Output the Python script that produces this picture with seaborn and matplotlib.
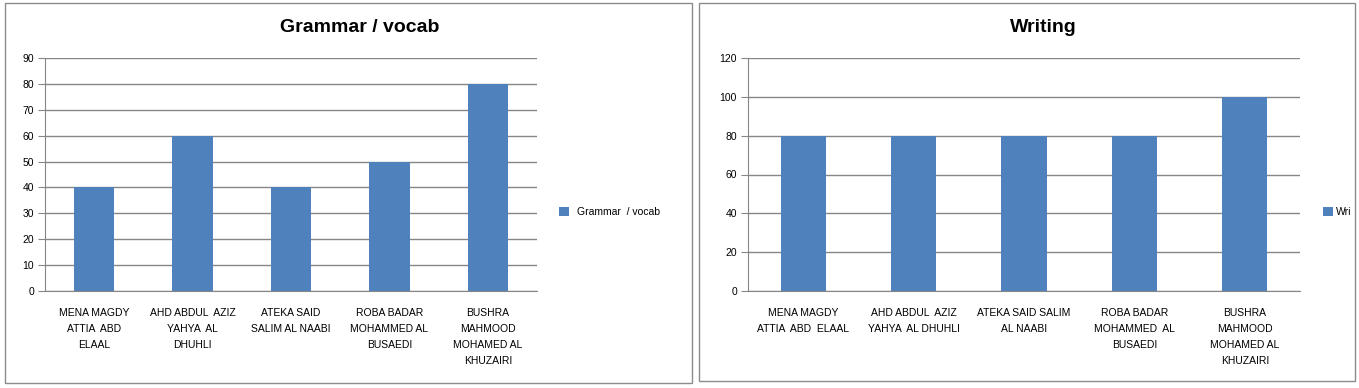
import matplotlib
matplotlib.use("Agg")
import matplotlib.pyplot as plt
import seaborn as sns
import pandas as pd
from matplotlib.patches import Rectangle

# Student names (wrapped as in each chart)
grammar_labels = ["MENA MAGDY\nATTIA  ABD\nELAAL", "AHD ABDUL  AZIZ\nYAHYA  AL\nDHUHLI",
                  "ATEKA SAID\nSALIM AL NAABI", "ROBA BADAR\nMOHAMMED AL\nBUSAEDI",
                  "BUSHRA\nMAHMOOD\nMOHAMED AL\nKHUZAIRI"]
writing_labels = ["MENA MAGDY\nATTIA  ABD  ELAAL", "AHD ABDUL  AZIZ\nYAHYA  AL DHUHLI",
                  "ATEKA SAID SALIM\nAL NAABI", "ROBA BADAR\nMOHAMMED  AL\nBUSAEDI",
                  "BUSHRA\nMAHMOOD\nMOHAMED AL\nKHUZAIRI"]
grammar_scores = [40, 60, 40, 50, 80]
writing_scores = [80, 80, 80, 80, 100]

sns.set_style("white")
plt.rcParams['font.family'] = ['Liberation Sans', 'DejaVu Sans']
plt.rcParams['text.color'] = 'black'
plt.rcParams['xtick.color'] = 'black'
plt.rcParams['ytick.color'] = 'black'

bar_color = '#4F81BD'
grid_color = '#868686'

fig = plt.figure(figsize=(13.59, 3.88), dpi=100)

# chart borders
fig.patches.append(Rectangle((5/1359, 1-383/388), 687/1359, 380/388, transform=fig.transFigure,
                             fill=False, edgecolor='#8c8c8c', linewidth=1))
fig.patches.append(Rectangle((699/1359, 1-381/388), 656/1359, 378/388, transform=fig.transFigure,
                             fill=False, edgecolor='#8c8c8c', linewidth=1))

ax1 = fig.add_axes([45/1359, 1-291/388, 492/1359, 233/388])
ax2 = fig.add_axes([748/1359, 1-291/388, 552/1359, 233/388])


def draw(ax, labels, values, ymax, step, series, title, title_x, leg_x, textpad):
    df = pd.DataFrame({'name': labels, 'score': values})
    sns.barplot(data=df, x='name', y='score', color=bar_color, width=0.41, ax=ax,
                saturation=1, label=series, linewidth=0)
    ax.set_xlim(-0.5, len(labels) - 0.5)
    ax.set_ylim(0, ymax)
    ax.set_yticks(range(0, ymax + 1, step))
    ax.yaxis.grid(True, color=grid_color, linewidth=1)
    ax.set_axisbelow(True)
    for s in ['top', 'right']:
        ax.spines[s].set_visible(False)
    for s in ['left', 'bottom']:
        ax.spines[s].set_color(grid_color)
    ax.set_xlabel('')
    ax.set_ylabel('')
    ax.set_xticks(range(len(labels)))
    ax.set_xticklabels(labels, fontsize=7.5, linespacing=1.75, va='top')
    ax.set_xticks([i - 0.5 for i in range(len(labels) + 1)], minor=True)
    ax.tick_params(axis='x', which='major', length=0, pad=12)
    ax.tick_params(axis='x', which='minor', length=6, color=grid_color, width=1)
    ax.tick_params(axis='y', length=5, color=grid_color, labelcolor='black', labelsize=7.5, left=True, pad=3)
    fig.text(title_x, 1-28/388, title, fontsize=14, fontweight='bold', ha='center', va='center', color='black')
    ax.legend(loc='center left', bbox_to_anchor=(leg_x, 1-212/388), bbox_transform=fig.transFigure,
              frameon=False, fontsize=7.5, handlelength=0.9, handleheight=0.9, handletextpad=textpad,
              labelcolor='black')


draw(ax1, grammar_labels, grammar_scores, 90, 10, 'Grammar  / vocab', 'Grammar / vocab', 360/1359, 550/1359, 0.8)
draw(ax2, writing_labels, writing_scores, 120, 20, 'Wri', 'Writing', 1043/1359, 1314/1359, 0.3)

fig.savefig('out.png', dpi=100)
